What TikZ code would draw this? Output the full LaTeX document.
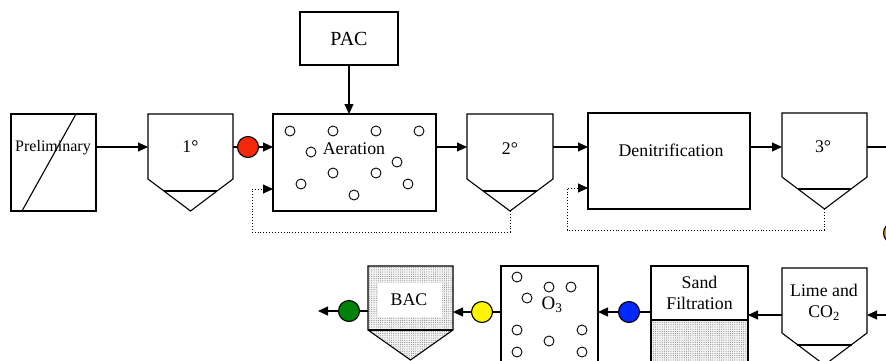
\documentclass[tikz,border=0pt]{standalone}
\usepackage{fontspec}
\setmainfont{Liberation Serif}
\usetikzlibrary{arrows.meta,patterns.meta}
\definecolor{dosered}{RGB}{245,40,10}
\definecolor{doseyel}{RGB}{255,245,0}
\definecolor{dosegrn}{RGB}{0,130,10}
\definecolor{doseblu}{RGB}{0,40,255}
\definecolor{doseorg}{RGB}{230,140,0}
\begin{document}
\begin{tikzpicture}[x=1pt,y=-1pt,line width=1.1pt,
  every node/.style={inner sep=0pt,outer sep=0pt},
  box/.style={draw,rectangle},
  lbl/.style={font=\fontsize{17.8}{21}\selectfont,align=center},
  arr/.style={-{Triangle[length=10pt,width=9pt]}},
  rec/.style={dotted,line width=0.9pt,-{Triangle[length=10pt,width=9pt]}},
  bub/.style={draw,circle,minimum size=10pt,line width=0.9pt},
  dose/.style={draw,circle,minimum size=21pt,fill=#1},
  stip/.style={pattern={Dots[distance=2.2pt,radius=0.4pt]},pattern color=black!70}
]
\useasboundingbox (0,0) rectangle (886,360);
\clip (0,0) rectangle (886,360);
\coordinate (r1) at (0,147);
\coordinate (r2) at (0,312);
\coordinate (r3) at (0,315);

% ---------- Row 1 ----------
\node[box,minimum width=85,minimum height=97] (pre) at (53.5,162.5) {};
\draw (22,211) -- (76,114);
\node[lbl,font=\fontsize{16}{19}\selectfont] (pret) at (53,148) {Preliminary};

% primary settler
\node[minimum width=85,minimum height=65] (s1) at (190.5,146.5) {};
\coordinate (s1p) at (190.5,211);
\draw (s1.north west) -- (s1.north east) -- (s1.south east) -- (s1p) -- (s1.south west) -- cycle;
\draw (164,191) -- (217,191);
\node[lbl] (s1t) at (190.5,147) {1°};

\node[dose=dosered] (cred) at (248,147) {};

% aeration
\node[box,minimum width=163,minimum height=97] (aer) at (354.5,162.5) {};
\node[lbl] (aert) at (354,149) {Aeration};
\foreach \p [count=\i] in {(290,131),(333,131),(376,131),(419,131),(311,152),(397,162),(333,173),(376,173),(301,184),(408,184),(354,195)}
  \node[bub] (ab\i) at \p {};

\node[box,minimum width=98,minimum height=53,font=\fontsize{20}{24}\selectfont] (pac) at (349,38.5) {PAC};

% secondary settler
\node[minimum width=86,minimum height=65] (s2) at (510,146.5) {};
\coordinate (s2p) at (510,211);
\draw (s2.north west) -- (s2.north east) -- (s2.south east) -- (s2p) -- (s2.south west) -- cycle;
\draw (483,191) -- (537,191);
\node[lbl] (s2t) at (510,149) {2°};

% denitrification
\node[box,minimum width=162,minimum height=96] (den) at (669,161) {};
\node[lbl] (dent) at (671,150) {Denitrification};

% tertiary settler
\node[minimum width=85,minimum height=64] (s3) at (824.5,145) {};
\coordinate (s3p) at (824.5,209);
\draw (s3.north west) -- (s3.north east) -- (s3.south east) -- (s3p) -- (s3.south west) -- cycle;
\draw (798,189) -- (851,189);
\node[lbl] (s3t) at (823,147) {3°};
\coordinate (out1) at (890,147);

\node[dose=doseorg] (corg) at (894,233) {};

% row 1 connectors
\draw[arr] (pre.east|-r1) -- (s1.west|-r1);
\draw (s1.east|-r1) -- (cred);
\draw[arr] (cred) -- (aer.west|-r1);
\draw[arr] (pac.south) -- (pac.south|-aer.north);
\draw[arr] (aer.east|-r1) -- (s2.west|-r1);
\draw[arr] (s2.east|-r1) -- (den.west|-r1);
\draw[arr] (den.east|-r1) -- (s3.west|-r1);
\draw (s3.east|-r1) -- (out1);
\draw[rec] (s2p) -- (510,232) -- (252,232) -- (252,189) -- (aer.west|-252,189);
\draw[rec] (s3p) -- (824.5,230) -- (567,230) -- (567,188) -- (den.west|-567,188);

% ---------- Row 2 ----------
% lime and CO2
\node[minimum width=85,minimum height=65] (lime) at (824.5,300.5) {};
\coordinate (limep) at (824.5,365);
\draw (lime.north west) -- (lime.north east) -- (lime.south east) -- (limep) -- (lime.south west) -- cycle;
\draw (797,345) -- (852,345);
\node[lbl] (limet) at (824,302.5) {Lime and\\CO\textsubscript{2}};
\coordinate (in2) at (890,315);

% sand filtration
\fill[gray!10] (651,320) rectangle (748,380);
\fill[stip] (651,320) rectangle (748,380);
\draw (651,320) rectangle (748,380);
\node[box,lbl,minimum width=97,minimum height=54] (sand) at (699.5,293) {Sand\\Filtration};

\node[dose=doseblu] (cblu) at (629,312) {};

% ozone
\node[box,minimum width=97,minimum height=114] (o3) at (549.5,323) {};
\node[lbl,font=\fontsize{19}{22}\selectfont] (o3t) at (552,305) {O\textsubscript{3}};
\foreach \p [count=\i] in {(517,277),(549,287),(571,287),(527,298),(517,330),(582,330),(549,341),(517,352),(582,352)}
  \node[bub] (ob\i) at \p {};

\node[dose=doseyel] (cyel) at (482,312) {};

% BAC
\node[minimum width=85,minimum height=64] (bac) at (410.5,298) {};
\coordinate (bacp) at (410.5,360);
\fill[gray!10] (bac.north west) -- (bac.north east) -- (bac.south east) -- (bacp) -- (bac.south west) -- cycle;
\fill[stip] (bac.north west) -- (bac.north east) -- (bac.south east) -- (bacp) -- (bac.south west) -- cycle;
\fill[white] (378,283) rectangle (442,317);
\draw (bac.north west) -- (bac.north east) -- (bac.south east) -- (bacp) -- (bac.south west) -- cycle;
\draw (bac.south west) -- (bac.south east);
\node[lbl] (bact) at (409,300) {BAC};

\node[dose=dosegrn] (cgrn) at (349,311) {};
\coordinate (outg) at (318,311);

% row 2 connectors
\draw[arr] (in2) -- (lime.east|-r3);
\draw[arr] (lime.west|-r3) -- (sand.east|-r3);
\draw (sand.west|-r2) -- (cblu);
\draw[arr] (cblu) -- (o3.east|-r2);
\draw (o3.west|-r2) -- (cyel);
\draw[arr] (cyel) -- (bac.east|-r2);
\draw (bac.west|-cgrn) -- (cgrn);
\draw[arr] (cgrn) -- (outg);
\end{tikzpicture}
\end{document}
